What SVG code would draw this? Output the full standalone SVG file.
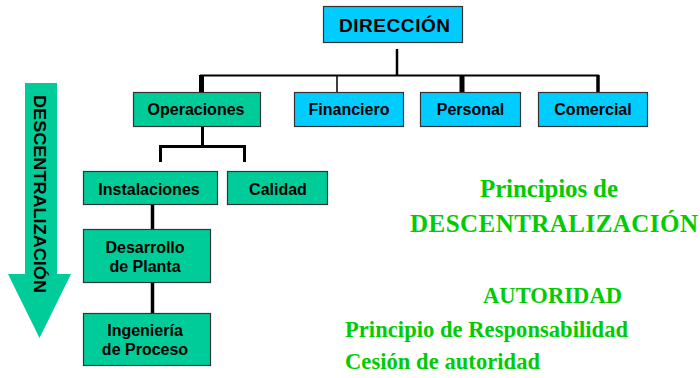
<svg xmlns="http://www.w3.org/2000/svg" width="700" height="378" viewBox="0 0 700 378">
<style>
.g{fill:#00CC99;stroke:#333;stroke-width:1.2}
.b{fill:#00CCFF;stroke:#333;stroke-width:1.2}
.t{font-family:"Liberation Sans",Arial,sans-serif;font-weight:bold;font-size:16px;fill:#000;text-anchor:middle}
.r{font-family:"Liberation Serif","Times New Roman",serif;font-weight:bold;fill:#00CC00}
.c{stroke:#000;fill:none}
</style>
<rect width="700" height="378" fill="#fff"/>
<g id="arrow">
<polygon points="25,83 57,83 57,274 71,274 39.5,338 8,274 25,274" fill="#00CC99"/>
<text class="t" style="text-anchor:start;font-size:17px" transform="translate(33.5,95) rotate(90)" textLength="198" lengthAdjust="spacingAndGlyphs">DESCENTRALIZACIÓN</text>
</g>
<g id="connectors">
<line class="c" x1="397" y1="49" x2="397" y2="76" stroke-width="2.5"/>
<line class="c" x1="200" y1="75.5" x2="599" y2="75.5" stroke-width="2"/>
<line class="c" x1="201.5" y1="75" x2="201.5" y2="92" stroke-width="5"/>
<line class="c" x1="337" y1="75" x2="337" y2="92" stroke-width="1.5"/>
<line class="c" x1="462" y1="75" x2="462" y2="92" stroke-width="5"/>
<line class="c" x1="598" y1="75" x2="598" y2="92" stroke-width="3.5"/>
<line class="c" x1="202.5" y1="127" x2="202.5" y2="147" stroke-width="3"/>
<line class="c" x1="159" y1="146.5" x2="246" y2="146.5" stroke-width="3"/>
<line class="c" x1="160.5" y1="145" x2="160.5" y2="162" stroke-width="3"/>
<line class="c" x1="244.5" y1="145" x2="244.5" y2="162" stroke-width="3"/>
<line class="c" x1="152.5" y1="205" x2="152.5" y2="229" stroke-width="3.5"/>
<line class="c" x1="152.5" y1="283" x2="152.5" y2="313" stroke-width="3.5"/>
</g>
<g id="direccion">
<rect class="b" x="323.5" y="6.5" width="139" height="36" stroke="#777"/>
<text class="t" x="394.5" y="32" style="font-size:19px" textLength="111" lengthAdjust="spacing">DIRECCIÓN</text>
</g>
<g id="operaciones">
<rect class="g" x="133.5" y="92.5" width="127" height="34"/>
<text class="t" x="196" y="115">Operaciones</text>
</g>
<g id="financiero">
<rect class="b" x="294.5" y="92.5" width="109" height="34"/>
<text class="t" x="349" y="115">Financiero</text>
</g>
<g id="personal">
<rect class="b" x="420.5" y="92.5" width="100" height="34"/>
<text class="t" x="470.5" y="115">Personal</text>
</g>
<g id="comercial">
<rect class="b" x="538.5" y="92.5" width="109" height="34"/>
<text class="t" x="593" y="115">Comercial</text>
</g>
<g id="instalaciones">
<rect class="g" x="83.5" y="171.5" width="134" height="33"/>
<text class="t" x="149" y="195">Instalaciones</text>
</g>
<g id="calidad">
<rect class="g" x="227.5" y="171.5" width="100" height="33"/>
<text class="t" x="278" y="195">Calidad</text>
</g>
<g id="desarrollo">
<rect class="g" x="83.5" y="229.5" width="127" height="53"/>
<text class="t" x="145" y="253">Desarrollo</text>
<text class="t" x="145" y="272">de Planta</text>
</g>
<g id="ingenieria">
<rect class="g" x="83.5" y="313.5" width="127" height="52"/>
<text class="t" x="145" y="336">Ingeniería</text>
<text class="t" x="145" y="355">de Proceso</text>
</g>
<g id="principios">
<text class="r" x="480" y="197" font-size="25" textLength="138">Principios de</text>
<text class="r" x="410" y="232" font-size="25" textLength="288">DESCENTRALIZACIÓN</text>
<text class="r" x="483" y="303" font-size="22.5" textLength="139">AUTORIDAD</text>
<text class="r" x="345" y="337" font-size="22.5" textLength="283">Principio de Responsabilidad</text>
<text class="r" x="345" y="369" font-size="22.5" textLength="195">Cesión de autoridad</text>
</g>
</svg>
